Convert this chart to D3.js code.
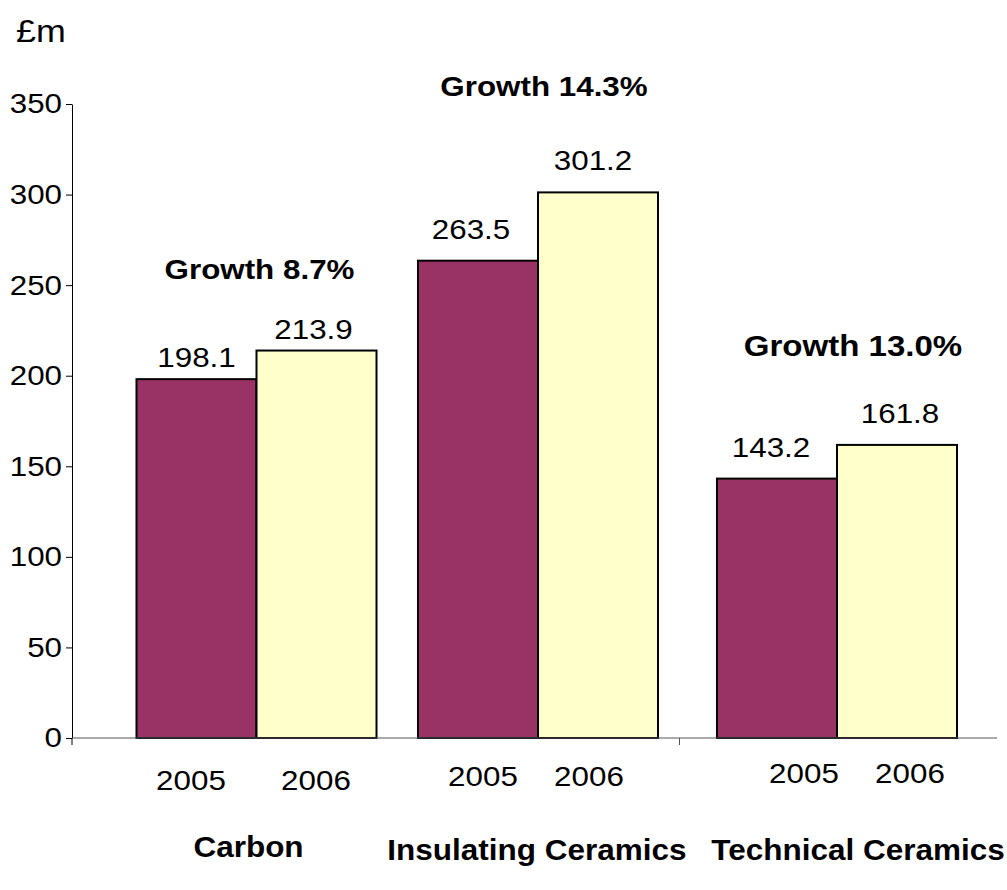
<!DOCTYPE html>
<html>
<head>
<meta charset="utf-8">
<script src="https://cdn.jsdelivr.net/npm/d3@7"></script>
<style>
  html, body { margin: 0; padding: 0; background: #ffffff; }
  svg { display: block; }
</style>
</head>
<body>
<svg id="chart" width="1007" height="890"></svg>
<script>
// Sales by division, £m
const categories = ["Carbon", "Insulating Ceramics", "Technical Ceramics"];
const years = ["2005", "2006"];
const sales2005 = [198.1, 263.5, 143.2];
const sales2006 = [213.9, 301.2, 161.8];
const growthLabels = ["Growth 8.7%", "Growth 14.3%", "Growth 13.0%"];
const yTicks = [0, 50, 100, 150, 200, 250, 300, 350];
const unitLabel = "£m";
const seriesColors = ["#993366", "#FFFFCC"];

// ---- layout ----
const FONT = "'Liberation Sans', Arial, Helvetica, sans-serif";
const STRETCH = 1.12;               // text is set slightly wide
const plot = { left: 72, right: 997, top: 104, bottom: 738 };

// per-category label placement
const valueGap   = [12, 22, 22];    // space between bar top and value label
const valueDx    = [[0, -3], [-7, -5], [-6, 3]];
const growthRise = [72, 96, 89];    // growth label baseline above the taller bar
const growthDx   = [3, 6, 16];
const growthSize = [28, 28, 29.5];
const yearDx     = [-3, -2, 20];    // centre of the year pair relative to the group
const yearSpread = [125, 106, 106]; // distance between the two year labels
const yearDrop   = [52, 48, 45];    // year label baseline below the axis
const catDx      = [-8, -1, 21];
const catDrop    = [119, 122, 122];

const svg = d3.select("#chart");

const y = d3.scaleLinear().domain([0, 350]).range([plot.bottom, plot.top]);
const x = d3.scaleOrdinal().domain(categories).range([256.5, 538, 837]);
const xYear = d3.scaleBand().domain(years).range([-120, 120]).padding(0);

function label(sel, px, py, s, opts = {}) {
  const { size = 28, weight = "normal", anchor = "middle", sx = STRETCH } = opts;
  const g = sel.append("g")
    .attr("transform", `translate(${px},${py}) scale(${sx},1)`);
  g.append("text")
    .attr("text-anchor", anchor)
    .attr("font-family", FONT)
    .attr("font-size", size)
    .attr("font-weight", weight)
    .attr("fill", "#000")
    .text(s);
  return g;
}

const rows = categories.map((c, i) => ({
  category: c,
  i,
  values: [
    { year: years[0], value: sales2005[i], color: seriesColors[0] },
    { year: years[1], value: sales2006[i], color: seriesColors[1] }
  ]
}));

// ---- bars ----
const groups = svg.append("g").selectAll("g.group")
  .data(rows).join("g")
  .attr("class", "group")
  .attr("transform", d => `translate(${x(d.category)},0)`);

groups.selectAll("rect")
  .data(d => d.values).join("rect")
  .attr("x", d => xYear(d.year))
  .attr("width", xYear.bandwidth())
  .attr("y", d => y(d.value))
  .attr("height", d => y(0) - y(d.value))
  .attr("fill", d => d.color)
  .attr("stroke", "#000")
  .attr("stroke-width", 2);

// ---- axes ----
const yAxis = d3.axisLeft(y).tickValues(yTicks).tickSize(6).tickSizeOuter(0).tickPadding(4);
const yg = svg.append("g")
  .attr("transform", `translate(${plot.left},0)`)
  .call(yAxis);
yg.select(".domain").attr("stroke", "#000").attr("stroke-width", 1);
yg.selectAll(".tick line").attr("stroke", "#000").attr("stroke-width", 1);
yg.selectAll(".tick text")
  .attr("font-family", FONT)
  .attr("font-size", 28)
  .attr("fill", "#000")
  .attr("x", -10 / STRETCH)
  .attr("transform", `scale(${STRETCH},1)`);

// y axis continues a little below the baseline
svg.append("line")
  .attr("x1", plot.left).attr("x2", plot.left)
  .attr("y1", y(0)).attr("y2", y(0) + 7)
  .attr("stroke", "#000");

// category axis
svg.append("line")
  .attr("x1", plot.left).attr("x2", plot.right)
  .attr("y1", y(0)).attr("y2", y(0))
  .attr("stroke", "#555").attr("stroke-width", 1);
const sepX = (x(categories[1]) + xYear.range()[1] + x(categories[2]) + xYear.range()[0]) / 2 - 8;
svg.append("line")
  .attr("x1", sepX).attr("x2", sepX)
  .attr("y1", y(0)).attr("y2", y(0) + 7)
  .attr("stroke", "#555");

// ---- labels ----
const labels = svg.append("g");

// unit
label(labels, 16, 42, unitLabel, { size: 32, anchor: "start" });

rows.forEach(r => {
  const cx = x(r.category);
  // values above bars
  r.values.forEach((v, j) => {
    label(labels, cx + xYear(v.year) + xYear.bandwidth() / 2 + valueDx[r.i][j],
          y(v.value) - valueGap[r.i], v.value.toFixed(1));
  });
  // growth
  const top = d3.max(r.values, v => v.value);
  label(labels, cx + growthDx[r.i], y(top) - growthRise[r.i], growthLabels[r.i],
        { weight: "bold", size: growthSize[r.i] });
  // years
  const yc = cx + yearDx[r.i];
  label(labels, yc - yearSpread[r.i] / 2, y(0) + yearDrop[r.i], years[0]);
  label(labels, yc + yearSpread[r.i] / 2, y(0) + yearDrop[r.i], years[1]);
  // category name
  label(labels, cx + catDx[r.i], y(0) + catDrop[r.i], r.category,
        { weight: "bold", size: 30, sx: 1.05 });
});
</script>
</body>
</html>
